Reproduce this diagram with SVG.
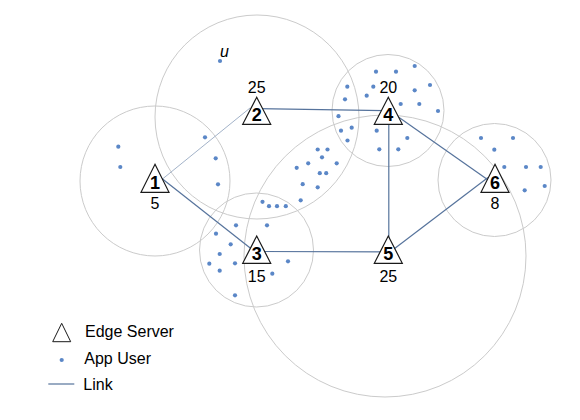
<svg xmlns="http://www.w3.org/2000/svg" width="580" height="420" viewBox="0 0 580 420">
<defs>
<style>
.cov{fill:none;stroke:#cbcbcb;stroke-width:1}
.link{stroke:#56739c;stroke-width:1.2;fill:none}
.link.light{stroke:#a3b3c9;stroke-width:1}
.usr{fill:#5b87c7}
.tri{fill:#ffffff;stroke:#1a1a1a;stroke-width:1.2;stroke-linejoin:miter}
.id{font-family:"Liberation Sans",Arial,sans-serif;font-size:18px;font-weight:bold;fill:#000;text-anchor:middle}
.cap{font-family:"Liberation Sans",Arial,sans-serif;font-size:16px;fill:#000;text-anchor:middle}
.leg{font-family:"Liberation Sans",Arial,sans-serif;font-size:16px;fill:#000}
</style>
<circle id="dot" r="2.1"/>
</defs>
<rect width="580" height="420" fill="#ffffff"/>
<g id="coverage">
<circle class="cov" cx="155" cy="181" r="75"/>
<circle class="cov" cx="257" cy="117" r="102"/>
<circle class="cov" cx="256.5" cy="250" r="57"/>
<circle class="cov" cx="388" cy="110.5" r="56"/>
<circle class="cov" cx="385" cy="256" r="141"/>
<circle class="cov" cx="494.5" cy="180" r="56.5"/>
</g>
<g id="users" class="usr">
<use href="#dot" x="118.3" y="146.7"/><use href="#dot" x="120.3" y="167"/><use href="#dot" x="205" y="137.3"/><use href="#dot" x="215.7" y="158.3"/><use href="#dot" x="218" y="184.3"/>
<use href="#dot" x="220" y="61"/>
<use href="#dot" x="376" y="71.7"/><use href="#dot" x="396" y="71.7"/><use href="#dot" x="414.7" y="66"/><use href="#dot" x="347.3" y="86.7"/><use href="#dot" x="373.3" y="86.7"/><use href="#dot" x="366.7" y="95.7"/><use href="#dot" x="414.7" y="90.3"/><use href="#dot" x="430" y="85"/><use href="#dot" x="345" y="99.3"/><use href="#dot" x="400.7" y="104"/><use href="#dot" x="419.3" y="104"/><use href="#dot" x="438" y="111"/><use href="#dot" x="338.5" y="116.2"/><use href="#dot" x="351.7" y="127.7"/><use href="#dot" x="341" y="130.7"/><use href="#dot" x="347.5" y="140.5"/><use href="#dot" x="376.7" y="130.7"/><use href="#dot" x="407.3" y="138"/><use href="#dot" x="379.3" y="149.3"/><use href="#dot" x="398.3" y="149.3"/>
<use href="#dot" x="317.7" y="149.5"/><use href="#dot" x="327.5" y="149.5"/><use href="#dot" x="322" y="157.3"/><use href="#dot" x="308.2" y="163.3"/><use href="#dot" x="336.7" y="163.3"/><use href="#dot" x="296.7" y="167.8"/><use href="#dot" x="319.8" y="173.2"/><use href="#dot" x="326.2" y="173.2"/><use href="#dot" x="302.7" y="184.2"/><use href="#dot" x="317.7" y="187.3"/><use href="#dot" x="300.7" y="200.3"/><use href="#dot" x="262.5" y="201.8"/><use href="#dot" x="269" y="206.2"/><use href="#dot" x="277" y="206.2"/><use href="#dot" x="285.8" y="206.2"/>
<use href="#dot" x="236" y="225.3"/><use href="#dot" x="267" y="225.3"/><use href="#dot" x="216" y="233.7"/><use href="#dot" x="230.7" y="244.3"/><use href="#dot" x="219.7" y="254"/><use href="#dot" x="209.3" y="263.7"/><use href="#dot" x="235" y="263.3"/><use href="#dot" x="219.7" y="270.7"/><use href="#dot" x="288" y="261.3"/><use href="#dot" x="272.3" y="273.7"/><use href="#dot" x="235" y="295.3"/>
<use href="#dot" x="481" y="138"/><use href="#dot" x="513" y="138"/><use href="#dot" x="494.3" y="149.7"/><use href="#dot" x="504.3" y="167"/><use href="#dot" x="526" y="167"/><use href="#dot" x="540.7" y="167"/><use href="#dot" x="524.7" y="190.3"/><use href="#dot" x="544.7" y="186"/>
</g>
<text x="224.5" y="57" font-family="Liberation Sans, Arial, sans-serif" font-size="16" font-style="italic" text-anchor="middle">u</text>
<g id="links">
<line class="link light" x1="160" y1="181" x2="250" y2="108"/>
<line class="link" x1="160" y1="177" x2="254" y2="251"/>
<line class="link" x1="258" y1="108.7" x2="384" y2="110.6"/>
<line class="link" x1="388.8" y1="115" x2="388.8" y2="245"/>
<line class="link" x1="392" y1="112.5" x2="491" y2="182"/>
<line class="link" x1="392" y1="250.5" x2="488" y2="177.5"/>
<line class="link" x1="258" y1="251.5" x2="386" y2="251.8"/>
</g>
<g id="server1"><polygon class="tri" points="155,164.3 169,192.3 141,192.3"/><text class="id" x="155" y="189">1</text><text class="cap" x="155" y="209">5</text></g>
<g id="server2"><polygon class="tri" points="256.7,97.3 270.7,124.3 242.7,124.3"/><text class="id" x="256.7" y="121">2</text><text class="cap" x="256.7" y="92.7">25</text></g>
<g id="server3"><polygon class="tri" points="256.7,236 270.7,263.3 242.7,263.3"/><text class="id" x="256.7" y="260">3</text><text class="cap" x="256.7" y="281.7">15</text></g>
<g id="server4"><polygon class="tri" points="388.3,97.3 402.3,124.3 374.3,124.3"/><text class="id" x="388.3" y="121">4</text><text class="cap" x="388.3" y="92.7">20</text></g>
<g id="server5"><polygon class="tri" points="388.3,236 402.3,263.3 374.3,263.3"/><text class="id" x="388.3" y="260">5</text><text class="cap" x="388.3" y="281.7">25</text></g>
<g id="server6"><polygon class="tri" points="495,164.3 509,192.3 481,192.3"/><text class="id" x="495" y="189">6</text><text class="cap" x="495" y="209.3">8</text></g>
<g id="legend">
<polygon points="61.7,323.3 70.7,341.7 52.7,341.7" fill="#ffffff" stroke="#1a1a1a" stroke-width="1"/>
<text class="leg" x="85" y="337.3">Edge Server</text>
<use href="#dot" x="61.7" y="360" fill="#5b87c7"/>
<text class="leg" x="84.3" y="364.3">App User</text>
<line class="link" x1="48.3" y1="384" x2="74.3" y2="384"/>
<text class="leg" x="83.3" y="390">Link</text>
</g>
</svg>
